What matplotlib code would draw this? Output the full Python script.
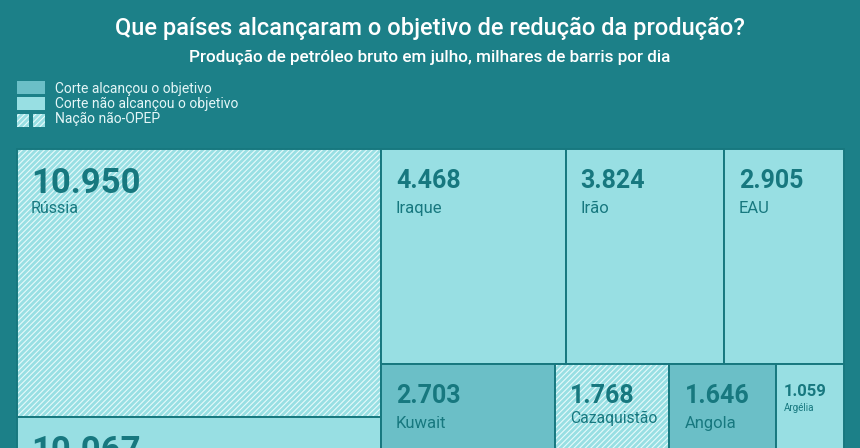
import matplotlib.pyplot as plt
from matplotlib.patches import Rectangle

# produção de petróleo bruto em julho (milhares de barris por dia)
countries = ["Rússia", "Arábia Saudita", "Iraque", "Irão", "EAU",
             "Kuwait", "Cazaquistão", "Angola", "Argélia"]
values = [10950, 10067, 4468, 3824, 2905, 2703, 1768, 1646, 1059]
# hit = corte alcançou o objetivo, miss = não alcançou, non = nação não-OPEP
status = ["non", "miss", "miss", "miss", "miss", "hit", "non", "hit", "miss"]
strip_of = [0, 0, 1, 1, 1, 2, 2, 2, 2]

title = "Que países alcançaram o objetivo de redução da produção?"
subtitle = "Produção de petróleo bruto em julho, milhares de barris por dia"
legend_labels = ["Corte alcançou o objetivo", "Corte não alcançou o objetivo", "Nação não-OPEP"]

BG = "#1c8088"
LIGHT = "#98dfe3"
DARK = "#6bbfc7"
INK = "#17787f"
HATCH = "#e6fafb"
fills = {"hit": DARK, "miss": LIGHT, "non": LIGHT}

plt.rcParams["font.family"] = ["Roboto", "DejaVu Sans"]
plt.rcParams["hatch.linewidth"] = 0.8

W, H = 860, 448
fig = plt.figure(figsize=(W / 100, H / 100), dpi=100, facecolor=BG)
ax = fig.add_axes([0, 0, 1, 1])
ax.set_xlim(0, W)
ax.set_ylim(H, 0)
ax.axis("off")

# treemap frame in pixels; the full map runs past the bottom of the crop
X0, X1, Y0 = 17, 844, 149
H_TOTAL = 514
K = 8.9  # px^2 per thousand barrels


def layout():
    cells = [None] * len(values)
    # strip 0: column on the left, spanning full height
    idx = [i for i in range(len(values)) if strip_of[i] == 0]
    cw = sum(values[i] for i in idx) * K / H_TOTAL
    y = Y0
    for i in idx:
        h = values[i] * K / cw
        cells[i] = (X0, y, cw, h)
        y += h
    # strips 1.. : rows stacked on the right
    x_left = X0 + cw
    length = X1 - x_left
    y = Y0
    for s in (1, 2):
        idx = [i for i in range(len(values)) if strip_of[i] == s]
        th = sum(values[i] for i in idx) * K / length
        x = x_left
        for i in idx:
            w = values[i] * K / th
            cells[i] = (x, y, w, th)
            x += w
        y += th
    return cells


cells = layout()
renderer = fig.canvas.get_renderer()

for i, (x, y, w, h) in enumerate(cells):
    ax.add_patch(Rectangle((x, y), w, h, facecolor=fills[status[i]], edgecolor="none"))
    if status[i] == "non":
        ax.add_patch(Rectangle((x, y), w, h, facecolor="none", edgecolor=HATCH,
                               hatch="//////", linewidth=0))
    ax.add_patch(Rectangle((x, y), w, h, facecolor="none", edgecolor=INK, linewidth=1.4))

    # text size tiers follow the cell size
    if w > 300:
        vs, ls, vb, lb, pad = 25, 11.5, 44, 64, 14
    elif w > 80:
        vs, ls, vb, lb, pad = 18, 12, 39, 64, 15
    else:
        vs, ls, vb, lb, pad = 12, 7, 32, 47, 8
    label = f"{values[i]:,}".replace(",", ".")
    ax.text(x + pad, y + vb, label, fontsize=vs, fontweight="bold", color=INK,
            ha="left", va="baseline")
    t = ax.text(x + pad, y + lb, countries[i], fontsize=ls, color=INK,
                ha="left", va="baseline")
    tw = t.get_window_extent(renderer).width
    if tw > w - pad - 12:
        t.set_fontsize(ls * (w - pad - 12) / tw)
        t.set_y(y + lb - 5)

# title and subtitle
ax.text(W / 2, 35, title, fontsize=17, fontweight="medium", color="white",
        ha="center", va="baseline")
ax.text(W / 2, 62, subtitle, fontsize=12.3, fontweight="medium", color="white",
        ha="center", va="baseline")

# legend
ax.add_patch(Rectangle((17, 81), 28, 13, facecolor=DARK, edgecolor="none"))
ax.add_patch(Rectangle((17, 97), 28, 13, facecolor=LIGHT, edgecolor="none"))
for lx in (17, 33):
    ax.add_patch(Rectangle((lx, 114), 12, 13, facecolor=LIGHT, edgecolor="none"))
    ax.add_patch(Rectangle((lx, 114), 12, 13, facecolor="none", edgecolor=HATCH,
                           hatch="//////", linewidth=0))
for lbl, yb in zip(legend_labels, [93, 108, 123]):
    ax.text(55, yb, lbl, fontsize=10, color="#e4f6f7", ha="left", va="baseline")

fig.savefig("out.png", dpi=100, facecolor=BG)
